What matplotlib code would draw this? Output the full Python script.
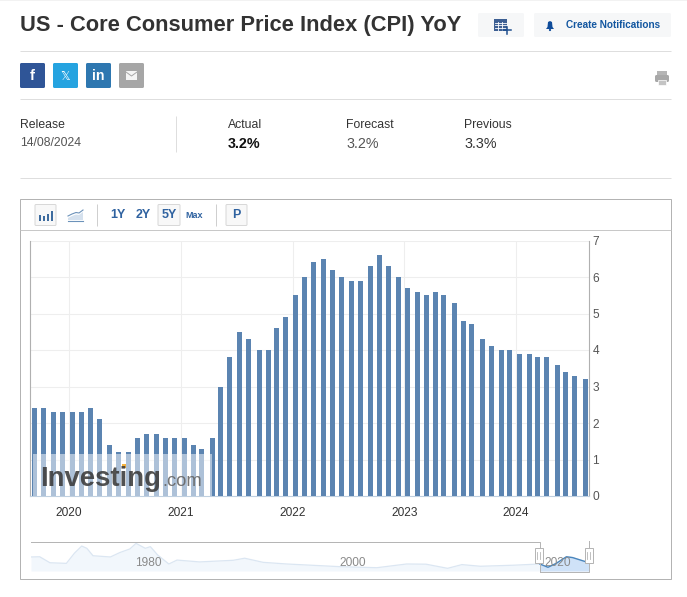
import matplotlib
matplotlib.use("Agg")
import matplotlib.pyplot as plt
import matplotlib.dates as mdates
from matplotlib.patches import Rectangle, FancyBboxPatch, Polygon, Circle
import pandas as pd

plt.rcParams['font.family'] = ['Liberation Sans', 'DejaVu Sans']

W, H = 687, 597
PX = 0.72  # one pixel line width in points

# ---------- data ----------
release_dates = [
    "2019-09-12","2019-10-10","2019-11-13","2019-12-11","2020-01-14","2020-02-13","2020-03-11","2020-04-10",
    "2020-05-12","2020-06-10","2020-07-14","2020-08-12","2020-09-11","2020-10-13","2020-11-12","2020-12-10",
    "2021-01-13","2021-02-10","2021-03-10","2021-04-13","2021-05-12","2021-06-10","2021-07-13","2021-08-11",
    "2021-09-14","2021-10-13","2021-11-10","2021-12-10","2022-01-12","2022-02-10","2022-03-10","2022-04-12",
    "2022-05-11","2022-06-10","2022-07-13","2022-08-10","2022-09-13","2022-10-13","2022-11-10","2022-12-13",
    "2023-01-12","2023-02-14","2023-03-14","2023-04-12","2023-05-10","2023-06-13","2023-07-12","2023-08-10",
    "2023-09-13","2023-10-12","2023-11-14","2023-12-12","2024-01-11","2024-02-13","2024-03-12","2024-04-10",
    "2024-05-15","2024-06-12","2024-07-11","2024-08-14"]
core_cpi = [
    2.4,2.4,2.3,2.3,2.3,2.3,2.4,2.1,1.4,1.2,
    1.2,1.6,1.7,1.7,1.6,1.6,1.6,1.4,1.3,1.6,
    3.0,3.8,4.5,4.3,4.0,4.0,4.6,4.9,5.5,6.0,
    6.4,6.5,6.2,6.0,5.9,5.9,6.3,6.6,6.3,6.0,
    5.7,5.6,5.5,5.6,5.5,5.3,4.8,4.7,4.3,4.1,
    4.0,4.0,3.9,3.9,3.8,3.8,3.6,3.4,3.3,3.2]
year_ticks = [2020, 2021, 2022, 2023, 2024]
y_ticks = [0, 1, 2, 3, 4, 5, 6, 7]
nav_years = [1970.05,1970.9,1971.9,1973.5,1974.3,1975.0,1975.5,1976.1,1977.8,1978.7,1979.7,1980.3,
             1981.2,1981.7,1982.4,1983.5,1984.3,1986.5,1989.8,1990.9,1992.7,1995.0,2000.2,2003.8,
             2006.7,2008.6,2010.7,2012.1,2013.9,2017.1,2019.7,2020.5,2021.3,2022.3,2022.9,2024.5]
nav_values = [6.8,6.9,4.0,3.7,8.7,12.1,11.0,7.4,6.8,8.9,10.7,13.4,
              11.0,11.8,7.8,3.4,5.3,4.4,5.2,6.2,4.2,3.4,2.1,1.6,
              3.4,3.3,1.3,3.1,2.3,2.8,3.4,1.8,3.7,6.9,6.5,4.0]
nav_labels = [1980, 2000, 2020]

fig = plt.figure(figsize=(W/100, H/100), dpi=100, facecolor='white')

def px_axes(l, t, r, b, **kw):
    return fig.add_axes([l/W, 1-b/H, (r-l)/W, (b-t)/H], **kw)

# ---------- page layer (pixel coordinates) ----------
pg = fig.add_axes([0, 0, 1, 1], zorder=0)
pg.set_xlim(0, W); pg.set_ylim(H, 0); pg.axis('off')

def hline(y, x0=20, x1=671, c='#dedede', lw=PX):
    pg.plot([x0, x1], [y, y], color=c, lw=lw, solid_capstyle='butt')
def vline(x, y0, y1, c='#dedede', lw=PX):
    pg.plot([x, x], [y0, y1], color=c, lw=lw, solid_capstyle='butt')
def box(x, y, w, h, fc, ec='none', r=1.5, lw=PX, z=2):
    pg.add_patch(FancyBboxPatch((x, y), w, h, boxstyle=f"round,pad=0,rounding_size={r}",
                                fc=fc, ec=ec, lw=lw, zorder=z))
def txt(x, y, s, size_px, c='#333333', w='normal', ha='left', va='center', **kw):
    return pg.text(x, y, s, fontsize=size_px*0.72, color=c, fontweight=w, ha=ha, va=va, **kw)

pg.add_patch(Rectangle((0, 0), W, 1, fc='#f2f2f2', ec='none'))
txt(20, 26, "US - Core Consumer Price Index (CPI) YoY", 21.9, w='bold')

box(478, 13, 46, 24, '#f6f7f8')
box(534, 13, 137, 24, '#f6f7f8')
# calendar-plus icon
pg.add_patch(Rectangle((494, 19), 13, 12, fc='#3d5f93', ec='none', zorder=3))
for yy in (22.5, 25, 27.5):
    pg.plot([495, 506], [yy, yy], color='white', lw=0.6, zorder=4)
for xx in (498, 502):
    pg.plot([xx, xx], [22, 30], color='white', lw=0.6, zorder=4)
pg.plot([503, 511], [30, 30], color='#1f4f8f', lw=1.1, zorder=5)
pg.plot([507, 507], [26.5, 33.5], color='#1f4f8f', lw=1.1, zorder=5)
# bell icon
pg.add_patch(Polygon([(546, 29), (547.5, 27), (548, 22), (550, 21), (552, 22), (552.5, 27), (554, 29)],
                     fc='#0f4c9a', ec='none', zorder=3))
pg.add_patch(Circle((550, 30), 1.1, fc='#0f4c9a', ec='none', zorder=3))
txt(565.5, 25.5, "Create Notifications", 10.0, c='#1256a0', w='bold')

hline(51)
# social buttons
for x, c in ((20, '#2f5597'), (53, '#25a3e0'), (86, '#2e77b0'), (119, '#a6a6a6')):
    box(x, 63, 25, 25, c, r=1.5)
txt(32.5, 76, "f", 15, c='white', w='bold', ha='center')
txt(65.5, 76, "\U0001D54F", 12, c='white', ha='center', family=['DejaVu Sans'])
txt(98.5, 76, "in", 14, c='white', w='bold', ha='center')
pg.add_patch(Rectangle((126, 71), 11, 8.5, fc='#f4f4f4', ec='none', zorder=3))
pg.plot([126, 131.5, 137], [72, 76, 72], color='#a6a6a6', lw=0.7, zorder=4)
# printer icon
pg.add_patch(Rectangle((657, 71), 10, 4, fc='#b5b5b5', ec='none'))
pg.add_patch(FancyBboxPatch((655, 75), 14, 7, boxstyle="round,pad=0,rounding_size=1.5", fc='#a8a8a8', ec='none'))
pg.add_patch(Rectangle((658, 80), 8, 5, fc='#c4c4c4', ec='white', lw=0.5, zorder=3))
hline(99)

# release block
txt(20, 125.5, "Release", 12.3)
txt(20, 143.5, "14/08/2024", 12.3, c='#555555')
vline(175.5, 116, 152)
txt(228, 124.5, "Actual", 12.3)
txt(228, 143.5, "3.2%", 14.2, c='#111111', w='bold')
txt(346, 124.5, "Forecast", 12.3)
txt(346, 143.5, "3.2%", 14.2, c='#555555')
txt(464, 124.5, "Previous", 12.3)
txt(464, 143.5, "3.3%", 14.2, c='#333333')
hline(178)

# chart frame
pg.add_patch(Rectangle((20, 199), 651, 380, fc='white', ec='#b3b3b3', lw=PX, zorder=1))
hline(230, 20, 671, c='#c8c8c8')

# toolbar
box(35, 204.5, 21, 21, '#f8f8f8', ec='#d8d8d8', r=1)
for x, y0, yh in ((38.5, 214.5, 6), (42.5, 215.5, 5), (46.5, 213.5, 7), (50.5, 211, 9.5)):
    pg.add_patch(Rectangle((x, y0), 2.6, yh, fc='#3e6c9f', ec='none', zorder=3))
pg.add_patch(Polygon([(68, 218), (72, 216), (76, 214.5), (79, 215), (83, 212), (83, 220), (68, 220)],
                     fc='#d5e1ee', ec='none', zorder=3))
pg.plot([68, 72, 76, 79, 83], [216, 214, 212.5, 213, 210], color='#6c92ba', lw=0.8, zorder=4)
pg.plot([68, 83], [220.5, 220.5], color='#6c92ba', lw=0.8, zorder=4)
vline(96.5, 204, 226, c='#cfcfcf')
txt(118, 215.5, "1Y", 12.5, c='#2f62a0', w='bold', ha='center')
txt(143, 215.5, "2Y", 12.5, c='#2f62a0', w='bold', ha='center')
box(158, 204.5, 22, 21, '#f8f8f8', ec='#d8d8d8', r=1)
txt(169, 215.5, "5Y", 12.5, c='#2f62a0', w='bold', ha='center')
txt(194, 215.5, "Max", 9, c='#2f62a0', w='bold', ha='center')
vline(215.5, 204, 226, c='#cfcfcf')
box(226, 204.5, 21, 21, '#f8f8f8', ec='#d8d8d8', r=1)
txt(236.5, 215.5, "P", 12.5, c='#2f62a0', w='bold', ha='center')

# ---------- main chart ----------
ax = px_axes(30.5, 240.5, 589, 496, zorder=2)
ax.patch.set_alpha(0)
dates = pd.to_datetime(release_dates)
base = mdates.date2num(pd.Timestamp("2020-01-01"))
px_per_day = 0.3061
ax.set_xlim(base - (68.8-30.5)/px_per_day, base + (589-68.8)/px_per_day)
ax.set_ylim(0, 7)
ax.bar(mdates.date2num(dates), core_cpi, width=5/px_per_day, color='#5b84b1', zorder=3)
ax.set_yticks(y_ticks)
ax.set_xticks([mdates.date2num(pd.Timestamp(f"{y}-01-01")) for y in year_ticks])
ax.set_xticklabels([str(y) for y in year_ticks], fontsize=8.6, color='#333333')
ax.yaxis.tick_right()
ax.tick_params(axis='y', length=0, pad=2.5, labelsize=8.6, labelcolor='#555555')
ax.tick_params(axis='x', length=0, pad=8)
ax.grid(True, color='#eeeeee', lw=0.8, zorder=0)
ax.set_axisbelow(True)
ax.spines['top'].set_visible(False)
ax.spines['left'].set_color('#b0b0b0')
ax.spines['right'].set_color('#b0b0b0')
ax.spines['bottom'].set_color('#c0d0e0')

# watermark
ov = fig.add_axes([0, 0, 1, 1], zorder=3)
ov.set_xlim(0, W); ov.set_ylim(H, 0); ov.axis('off')
ov.add_patch(Rectangle((33, 454), 179, 42, fc='white', ec='none', alpha=0.5))
ov.text(40, 486, "Investing", fontsize=19.8, fontweight='bold', color='#3a3a3a', alpha=0.88,
        ha='left', va='baseline')
ov.text(162.5, 486, ".com", fontsize=13.2, color='#666666', alpha=0.9, ha='left', va='baseline')
ov.add_patch(Rectangle((121.5, 464), 4, 4, fc='#f6b23c', ec='none'))

# ---------- navigator ----------
nav = px_axes(31, 541.5, 589, 571, zorder=2)
nav.patch.set_alpha(0)
nav.set_xlim(1970.05, 2024.5)
nav.set_ylim(0, 14.3)
nav.axis('off')
sel = 2019.7
nav.fill_between(nav_years, nav_values, 0, color='#f2f7fc', lw=0, zorder=1)
nav.plot(nav_years, nav_values, color='#dbe6f2', lw=0.9, zorder=2)
yrs_sel = [y for y in nav_years if y >= sel]
vals_sel = [v for y, v in zip(nav_years, nav_values) if y >= sel]
nav.fill_between(yrs_sel, vals_sel, 0, color='#cfe2f8', lw=0, zorder=3)
nav.plot(yrs_sel, vals_sel, color='#4a86bd', lw=1.0, zorder=4)

# navigator decorations and labels
for yr, x in zip(nav_labels, (148, 353, 558)):
    ov.text(x, 563, str(yr), fontsize=8.6, color='#8a8a8a', ha='center', va='center')
ov.plot([31, 539.5, 539.5], [541.5, 541.5, 571], color='#b5b5b5', lw=PX)
ov.plot([539.5, 588.5, 588.5], [571.5, 571.5, 541], color='#b5b5b5', lw=PX)
for x in (538.5, 588.5):
    ov.add_patch(Rectangle((x-4, 548), 8, 15, fc='white', ec='#b5b5b5', lw=PX, zorder=5))
    for d in (-1.2, 1.2):
        ov.plot([x+d, x+d], [552, 559], color='#b5b5b5', lw=0.6, zorder=6)

fig.savefig("out.png", dpi=100, facecolor='white')
